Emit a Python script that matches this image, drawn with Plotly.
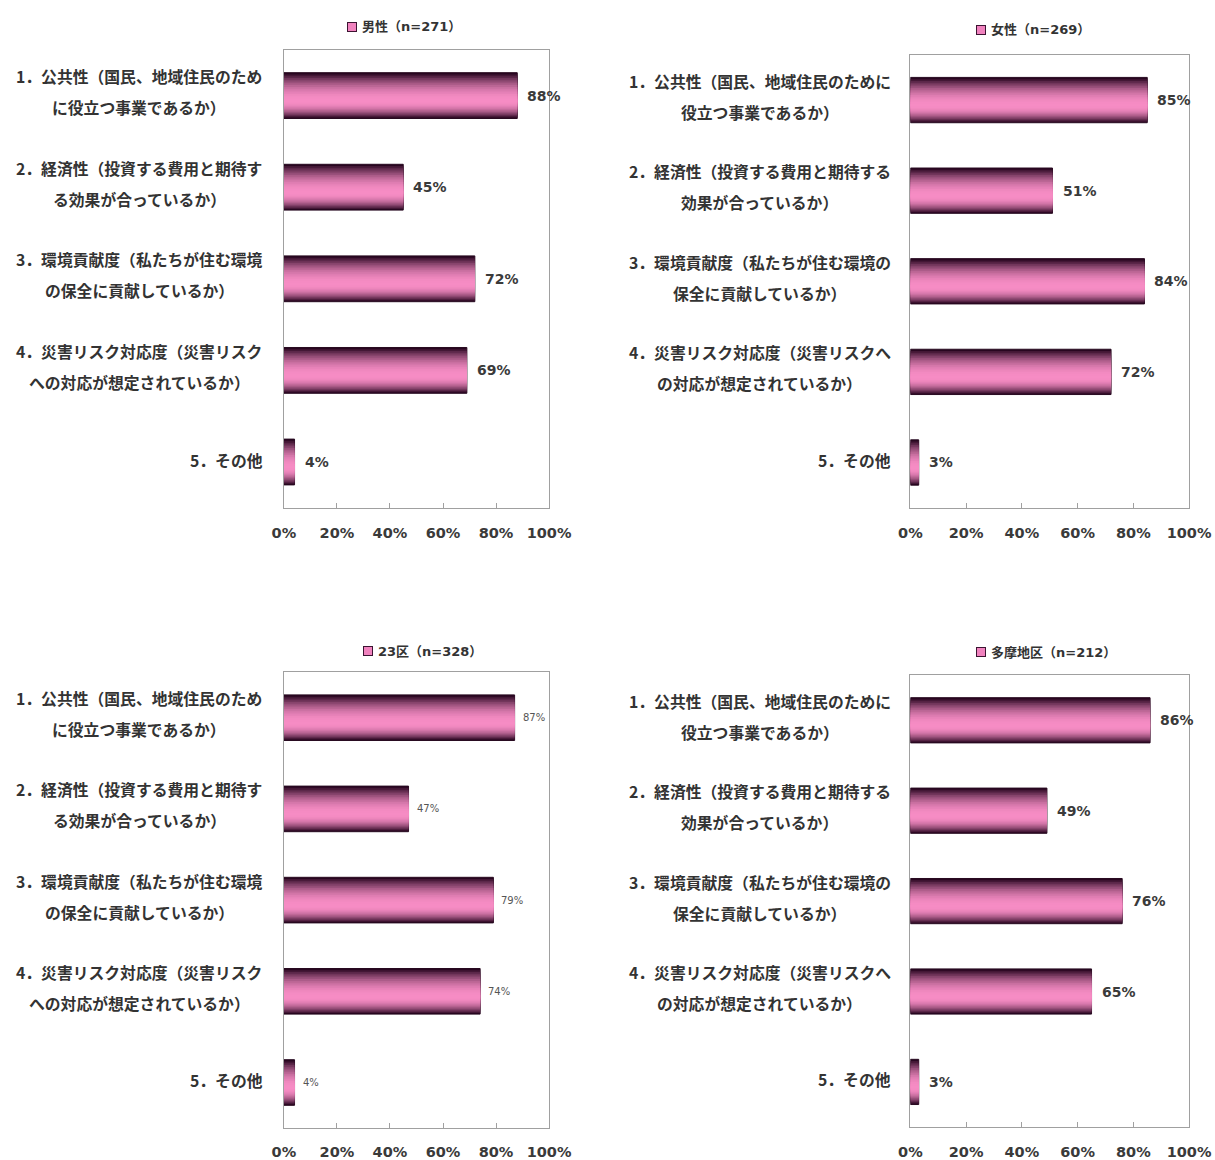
import plotly.graph_objects as go

# ---------------- data ----------------
categories = ["公共性", "経済性", "環境貢献度", "災害リスク対応度", "その他"]

labels_left = [
    ["1．公共性（国民、地域住民のため", "に役立つ事業であるか）"],
    ["2．経済性（投資する費用と期待す", "る効果が合っているか）"],
    ["3．環境貢献度（私たちが住む環境", "の保全に貢献しているか）"],
    ["4．災害リスク対応度（災害リスク", "への対応が想定されているか）"],
    ["5．その他"],
]
labels_right = [
    ["1．公共性（国民、地域住民のために", "役立つ事業であるか）"],
    ["2．経済性（投資する費用と期待する", "効果が合っているか）"],
    ["3．環境貢献度（私たちが住む環境の", "保全に貢献しているか）"],
    ["4．災害リスク対応度（災害リスクへ", "の対応が想定されているか）"],
    ["5．その他"],
]

group_names = ["男性", "女性", "23区", "多摩地区"]
group_n = [271, 269, 328, 212]

male = [88, 45, 72, 69, 4]
female = [85, 51, 84, 72, 3]
ward23 = [87, 47, 79, 74, 4]
tama = [86, 49, 76, 65, 3]

tick_vals = [0, 20, 40, 60, 80, 100]
tick_text = ["0%", "20%", "40%", "60%", "80%", "100%"]

# ---------------- layout helpers ----------------
W, H = 1215, 1160
def pxx(x):
    return x / W
def pxy(y):
    return 1 - y / H

panels = [
    dict(vals=male, labels=labels_left, xdom=(280, 553), ydom=(50, 510),
         lab_right=261, lab_center=131, leg=(350, 27, 358), small=False, so=12),
    dict(vals=female, labels=labels_right, xdom=(925, 1212), ydom=(55, 510),
         lab_right=907, lab_center=770, leg=(998, 30, 1006), small=False, so=12),
    dict(vals=ward23, labels=labels_left, xdom=(280, 553), ydom=(675, 1133),
         lab_right=261, lab_center=131, leg=(367, 654, 375), small=True, so=10),
    dict(vals=tama, labels=labels_right, xdom=(925, 1212), ydom=(678, 1132),
         lab_right=907, lab_center=770, leg=(998, 655, 1006), small=False, so=11),
]

CJK = "Noto Sans CJK JP"
LAT = "DejaVu Sans"
dark = (40, 6, 32)
pink = (246, 140, 196)
N = 16
peak = 0.06  # position of the lightest band inside the bar (data units)

fig = go.Figure()
annotations = []

for i, p in enumerate(panels, start=1):
    xa, ya = f"x{i}", f"y{i}"
    # layered bars to mimic the cylinder gradient
    for k in range(N):
        t = k / N
        lo = -0.25 + t * (peak + 0.25)
        hi = 0.25 - t * (0.25 - peak)
        tc = k / (N - 1)
        f = 1 - (1 - tc) ** 2.0
        col = tuple(int(round(dark[j] + (pink[j] - dark[j]) * f)) for j in range(3))
        fig.add_trace(go.Bar(
            x=p["vals"], y=categories, orientation="h",
            width=hi - lo, offset=lo,
            marker=dict(color=f"rgb{col}",
                        line=dict(width=1 if k == 0 else 0, color="rgb(40,10,32)")),
            xaxis=xa, yaxis=ya, showlegend=False, hoverinfo="skip",
        ))
    # value labels
    for c, v in zip(categories, p["vals"]):
        if p["small"]:
            font = dict(family=LAT, size=10, color="#555555")
            xs = 6
        else:
            font = dict(family=LAT, size=14, color="#3a3a3a", weight="bold")
            xs = 8
        annotations.append(dict(x=v, y=c, xref=xa, yref=ya, xanchor="left",
                                yanchor="middle", xshift=xs, text=f"{v}%",
                                showarrow=False, font=font))
    # category labels
    for c, lines in zip(categories, p["labels"]):
        lf = dict(family=CJK, size=15.8, color="#333333", weight="bold")
        if len(lines) == 1:
            annotations.append(dict(x=pxx(p["lab_right"]), y=c, xref="paper", yref=ya,
                                    xanchor="right", yanchor="middle", yshift=2,
                                    text=lines[0], showarrow=False, font=lf))
        else:
            annotations.append(dict(x=pxx(p["lab_center"]), y=c, xref="paper", yref=ya,
                                    xanchor="center", yanchor="middle", yshift=19,
                                    text=lines[0], showarrow=False, font=lf))
            annotations.append(dict(x=pxx(p["lab_center"]), y=c, xref="paper", yref=ya,
                                    xanchor="center", yanchor="middle", yshift=-12,
                                    text=lines[1], showarrow=False, font=lf))
    # legend-like header
    sx, sy, tx = p["leg"]
    annotations.append(dict(x=pxx(sx), y=pxy(sy), xref="paper", yref="paper",
                            xanchor="center", yanchor="middle", text=" ",
                            width=8, height=8, borderpad=0, borderwidth=1,
                            bordercolor="rgb(60,20,50)", bgcolor="rgb(240,130,190)",
                            font=dict(size=2), showarrow=False))
    annotations.append(dict(x=pxx(tx), y=pxy(sy), xref="paper", yref="paper",
                            xanchor="left", yanchor="middle",
                            text=f"{group_names[i-1]}（n={group_n[i-1]}）",
                            font=dict(family=LAT + ", " + CJK, size=13,
                                      color="#333333", weight="bold"),
                            showarrow=False))

    x0, x1 = p["xdom"]
    y0, y1 = p["ydom"]
    fig.update_layout(**{
        f"xaxis{i}": dict(
            domain=[pxx(x0), pxx(x1)], range=[0, 100], anchor=ya,
            tickvals=tick_vals, ticktext=tick_text,
            ticks="inside", ticklen=5, tickcolor="#a0a0a0",
            showline=True, mirror=True, linecolor="#a0a0a0", linewidth=1,
            showgrid=False, zeroline=False, ticklabelstandoff=p["so"],
            tickfont=dict(family=LAT, size=14.5, color="#3a3a3a", weight="bold"),
            fixedrange=True,
        ),
        f"yaxis{i}": dict(
            domain=[pxy(y1), pxy(y0)], type="category",
            categoryorder="array", categoryarray=categories,
            range=[4.5, -0.5], anchor=xa,
            showticklabels=False, ticks="",
            showline=True, mirror=True, linecolor="#a0a0a0", linewidth=1,
            showgrid=False, zeroline=False, fixedrange=True,
        ),
    })

fig.update_layout(
    width=W, height=H, autosize=False,
    margin=dict(l=0, r=0, t=0, b=0),
    paper_bgcolor="white", plot_bgcolor="white",
    barmode="overlay", showlegend=False,
    annotations=annotations,
    font=dict(family=CJK),
)

fig.write_html("out.html", config={"displayModeBar": False})
